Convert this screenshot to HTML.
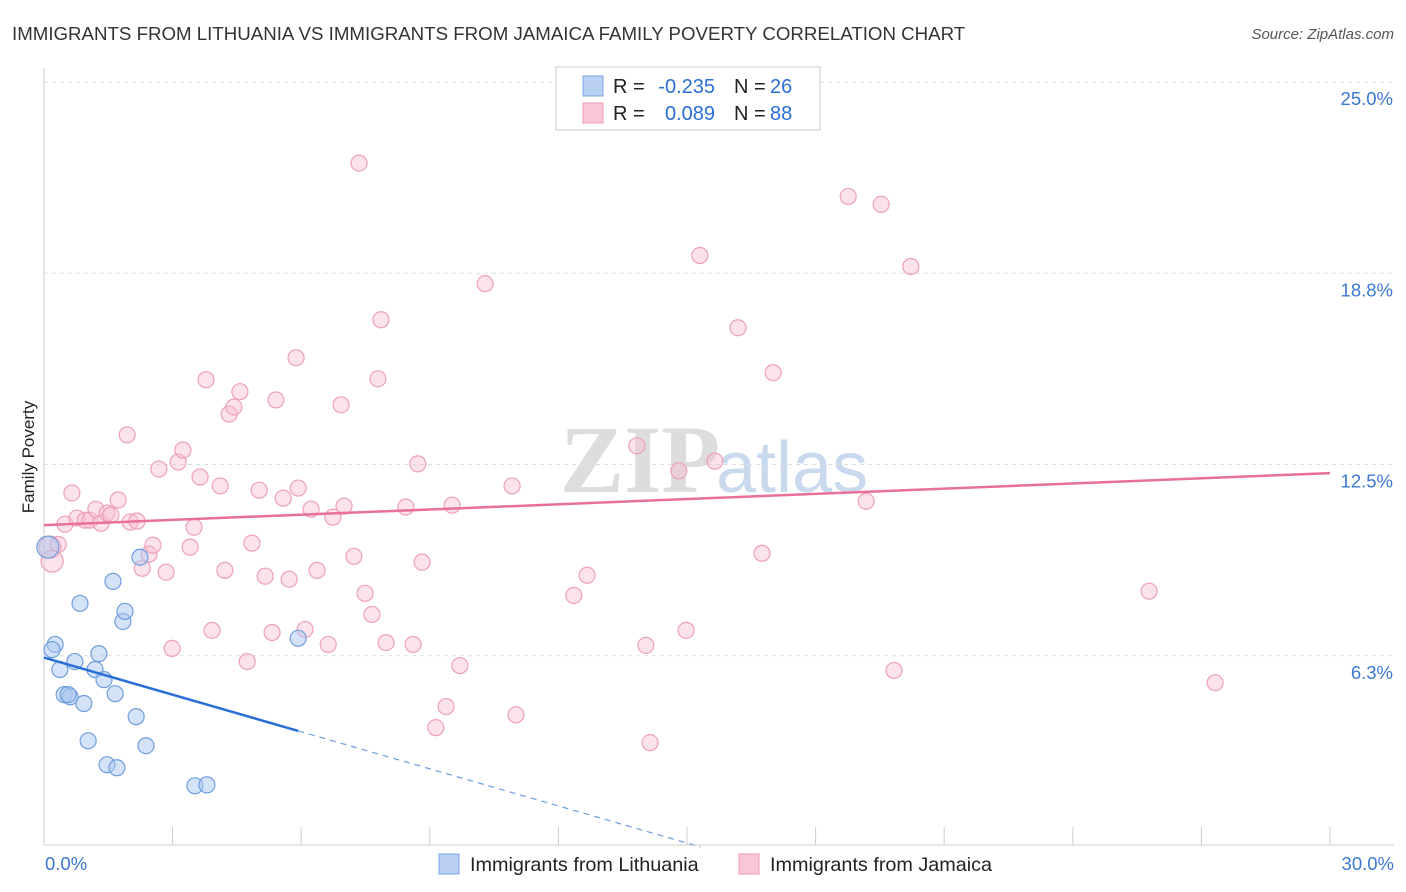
<!DOCTYPE html>
<html><head><meta charset="utf-8">
<style>
body{margin:0;background:#fff;font-family:"Liberation Sans",sans-serif;}
#wrap{position:relative;width:1406px;height:892px;overflow:hidden;}
</style></head>
<body>
<div id="wrap">
<svg id="svg" width="1406" height="892" xmlns="http://www.w3.org/2000/svg">
<text x="12" y="40" font-size="18.7" fill="#333">IMMIGRANTS FROM LITHUANIA VS IMMIGRANTS FROM JAMAICA FAMILY POVERTY CORRELATION CHART</text>
<text x="1394" y="39" font-size="15" fill="#555" text-anchor="end" font-style="italic">Source: ZipAtlas.com</text>
<text x="34" y="457" font-size="17" fill="#222" text-anchor="middle" transform="rotate(-90 34 457)">Family Poverty</text>
<text x="720" y="492" font-size="96" fill="#ddd" text-anchor="end" font-family="Liberation Serif" font-weight="bold">ZIP</text>
<text x="716" y="492" font-size="72" fill="#c9d9ee">atlas</text>
<g id="grid"></g><g id="axes"></g><g id="marks"></g>
<g>
<rect x="556" y="67" width="264" height="63" fill="#fff" stroke="#ccc"/>
<rect x="583" y="76" width="20" height="20" fill="#b8d1f3" stroke="#7aa6e0"/>
<rect x="583" y="103" width="20" height="20" fill="#f9c6d6" stroke="#ee9ab5"/>
<text x="613" y="93" font-size="20" fill="#222">R =</text>
<text x="715" y="93" font-size="20" fill="#2a6fd6" text-anchor="end">-0.235</text>
<text x="734" y="93" font-size="20" fill="#222">N =</text>
<text x="770" y="93" font-size="20" fill="#2a6fd6">26</text>
<text x="613" y="120" font-size="20" fill="#222">R =</text>
<text x="715" y="120" font-size="20" fill="#2a6fd6" text-anchor="end">0.089</text>
<text x="734" y="120" font-size="20" fill="#222">N =</text>
<text x="770" y="120" font-size="20" fill="#2a6fd6">88</text>
</g>
<g>
<rect x="439" y="854" width="20" height="20" fill="#b8d1f3" stroke="#7aa6e0"/>
<text x="470" y="871" font-size="19.8" fill="#222">Immigrants from Lithuania</text>
<rect x="739" y="854" width="20" height="20" fill="#f9c6d6" stroke="#ee9ab5"/>
<text x="770" y="871" font-size="19.8" fill="#222">Immigrants from Jamaica</text>
</g>
</svg>
</div>
<script>
const yTicks=[6.25,12.5,18.75,25];
const yTickLabels=["6.3%","12.5%","18.8%","25.0%"];
const xLabels=["0.0%","30.0%"];
const blueX=[0.09,0.26,0.19,0.37,0.47,0.61,0.72,0.84,0.93,1.03,1.19,1.28,1.40,1.47,1.61,1.66,1.70,1.84,1.89,2.15,2.24,2.38,3.52,3.80,5.93,0.56];
const blueY=[9.80,6.62,6.45,5.80,4.98,4.91,6.06,7.96,4.69,3.47,5.80,6.32,5.47,2.69,8.68,5.01,2.59,7.37,7.70,4.26,9.47,3.31,2.00,2.03,6.82,4.98];
const pinkX=[0.14,0.19,0.33,0.49,0.65,0.77,0.96,1.07,1.21,1.33,1.47,1.56,1.73,1.94,2.01,2.17,2.29,2.45,2.54,2.68,2.85,2.99,3.13,3.24,3.41,3.50,3.64,3.78,3.92,4.11,4.22,4.32,4.43,4.57,4.74,4.85,5.02,5.16,5.32,5.41,5.58,5.72,5.88,5.93,6.09,6.23,6.37,6.63,6.74,6.93,7.00,7.23,7.35,7.49,7.65,7.79,7.86,7.98,8.44,8.61,8.72,8.82,9.38,9.52,9.70,9.14,10.29,10.92,11.01,12.36,12.67,13.83,14.04,14.14,14.81,14.98,15.30,15.65,16.19,16.75,17.01,18.76,19.18,19.53,19.83,20.22,25.78,27.32];
const pinkY=[9.80,9.34,9.89,10.55,11.57,10.75,10.68,10.68,11.04,10.58,10.91,10.85,11.34,13.47,10.62,10.65,9.11,9.57,9.86,12.35,8.98,6.49,12.58,12.97,9.80,10.45,12.09,15.27,7.08,11.80,9.04,14.15,14.38,14.88,6.06,9.93,11.66,8.85,7.01,14.61,11.40,8.75,15.99,11.73,7.11,11.04,9.04,6.62,10.78,14.45,11.14,9.50,22.35,8.29,7.60,15.30,17.23,6.68,11.11,6.62,12.52,9.31,4.59,11.17,5.93,3.90,18.41,11.80,4.32,8.22,8.88,13.11,6.59,3.41,12.29,7.08,19.33,12.61,16.97,9.60,15.50,21.26,11.30,21.00,5.77,18.97,8.36,5.37];
const pinkTrend=[10.52,12.22];
const blueTrend=[6.19,-0.404];
const NS="http://www.w3.org/2000/svg";
const X=v=>44+v/30*1286, Y=v=>847-v*30.6;
function mk(t,a,p){const e=document.createElementNS(NS,t);for(const k in a)e.setAttribute(k,a[k]);p.appendChild(e);return e;}
const grid=document.getElementById('grid'),axes=document.getElementById('axes'),marks=document.getElementById('marks');
yTicks.forEach((t,i)=>{
 const l=mk('line',{x1:44,x2:1394,y1:Y(t),y2:Y(t),stroke:'#ddd','stroke-dasharray':'4,4'},grid);
 
 
 const tx=mk('text',{x:1393,y:Y(t)+23,'font-size':18.5,fill:'#3a78d0','text-anchor':'end'},axes);tx.textContent=yTickLabels[i];
 
 
});
mk('line',{x1:44,x2:44,y1:68,y2:845,stroke:'#ccc'},axes);
mk('line',{x1:44,x2:1394,y1:845,y2:845,stroke:'#ccc'},axes);
for(let i=0;i<=10;i++){const t=mk('line',{x1:X(i*3),x2:X(i*3),y1:827,y2:845,stroke:'#ccc'},axes);
 
 }
const xl0=mk('text',{x:45,y:870,'font-size':18.5,fill:'#3a78d0'},axes);xl0.textContent=xLabels[0];


const xl1=mk('text',{x:1394,y:870,'font-size':18.5,fill:'#3a78d0','text-anchor':'end'},axes);xl1.textContent=xLabels[1];


pinkX.forEach((x,i)=>{const c=mk('circle',{cx:X(x),cy:Y(pinkY[i]),r:i<2?11:8,fill:'rgba(248,190,208,0.45)',stroke:'#eea0b8','stroke-width':1.2},marks);
 
 });
blueX.forEach((x,i)=>{const c=mk('circle',{cx:X(x),cy:Y(blueY[i]),r:i==0?11:8,fill:'rgba(170,200,240,0.5)',stroke:'#6f9ede','stroke-width':1.2},marks);
 
 });
const pl=mk('line',{x1:X(0),y1:Y(pinkTrend[0]),x2:X(30),y2:Y(pinkTrend[1]),stroke:'#e8709a','stroke-width':2.5},marks);


const bEnd=5.93, bZero=-blueTrend[0]/blueTrend[1];
const bl=mk('line',{x1:X(0),y1:Y(blueTrend[0]),x2:X(bEnd),y2:Y(blueTrend[0]+blueTrend[1]*bEnd),stroke:'#2a6fd6','stroke-width':2.5},marks);


const bd=mk('line',{x1:X(bEnd),y1:Y(blueTrend[0]+blueTrend[1]*bEnd),x2:X(bZero),y2:Y(0),stroke:'#6f9ede','stroke-width':1.2,'stroke-dasharray':'6,5'},marks);


</script>
</body></html>
